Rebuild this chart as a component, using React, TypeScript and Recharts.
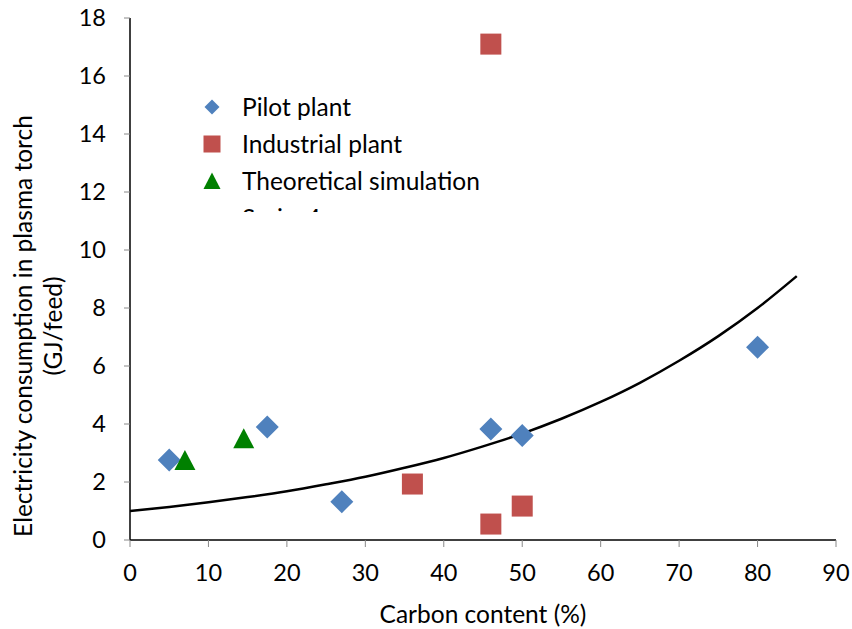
import {
  Legend,
  Scatter,
  ScatterChart,
  XAxis,
  YAxis,
} from "recharts";

// carbon content (%) vs. electricity consumption (GJ/feed)
const pilotPlant = [
  { x: 5, y: 2.76 },
  { x: 17.5, y: 3.9 },
  { x: 27, y: 1.32 },
  { x: 46, y: 3.83 },
  { x: 50, y: 3.6 },
  { x: 80, y: 6.65 },
];

const industrialPlant = [
  { x: 46, y: 17.1 },
  { x: 36, y: 1.93 },
  { x: 46, y: 0.55 },
  { x: 50, y: 1.17 },
];

const theoreticalSimulation = [
  { x: 7, y: 2.72 },
  { x: 14.5, y: 3.47 },
];

// trend line, read every 5 %
const trendX = [0, 5, 10, 15, 20, 25, 30, 35, 40, 45, 50, 55, 60, 65, 70, 75, 80, 85];
const trendY = [1.0, 1.14, 1.3, 1.48, 1.68, 1.92, 2.18, 2.49, 2.83, 3.23, 3.67, 4.18, 4.76, 5.42, 6.18, 7.03, 8.0, 9.1];
const trend = trendX.map((x, i) => ({ x, y: trendY[i] }));

const xTicks = [0, 10, 20, 30, 40, 50, 60, 70, 80, 90];
const yTicks = [0, 2, 4, 6, 8, 10, 12, 14, 16, 18];

const legendItems = [
  { name: "Pilot plant", marker: "diamond", color: "#4F81BD" },
  { name: "Industrial plant", marker: "square", color: "#C0504D" },
  { name: "Theoretical simulation", marker: "triangle", color: "#008000" },
  { name: "Series4", marker: "none", color: "#000" },
];

const FONT = "Lato, 'Open Sans', sans-serif";

const Diamond = ({ cx, cy }: any) => {
  const r = 11.5;
  return (
    <path
      d={`M${cx},${cy - r}L${cx + r},${cy}L${cx},${cy + r}L${cx - r},${cy}Z`}
      fill="#4F81BD"
    />
  );
};

const Square = ({ cx, cy }: any) => {
  const s = 10.5;
  return <rect x={cx - s} y={cy - s} width={s * 2} height={s * 2} fill="#C0504D" />;
};

const Triangle = ({ cx, cy }: any) => {
  const w = 10.5;
  return (
    <path
      d={`M${cx},${cy - 11}L${cx + w},${cy + 9}L${cx - w},${cy + 9}Z`}
      fill="#008000"
    />
  );
};

const LegendMarker = ({ kind, color }: { kind: string; color: string }) => {
  if (kind === "none") return <svg width={20} height={20} />;
  let el;
  if (kind === "diamond") el = <path d="M10,2.5L17.5,10L10,17.5L2.5,10Z" fill={color} />;
  else if (kind === "square") el = <rect x={1.5} y={1.5} width={17} height={17} fill={color} />;
  else el = <path d="M10,1.5L18.5,18L1.5,18Z" fill={color} />;
  return (
    <svg width={20} height={20} style={{ display: "block" }}>
      {el}
    </svg>
  );
};

const renderLegend = () => (
  <div style={{ height: 124, overflow: "hidden", fontFamily: FONT, fontSize: 24.5 }}>
    {legendItems.map((it) => (
      <div
        key={it.name}
        style={{ display: "flex", alignItems: "center", height: 37, color: "#000" }}
      >
        <div style={{ width: 20, marginRight: 20 }}>
          <LegendMarker kind={it.marker} color={it.color} />
        </div>
        <span>{it.name}</span>
      </div>
    ))}
  </div>
);

const YLabel = () => (
  <text
    transform="translate(0,326) rotate(-90)"
    textAnchor="middle"
    fontFamily={FONT}
    fontSize={24.5}
    fill="#000"
  >
    <tspan x={0} y={32}>Electricity consumption in plasma torch</tspan>
    <tspan x={0} y={62}>(GJ/feed)</tspan>
  </text>
);

export default function App() {
  return (
    <div style={{ position: "absolute", left: 0, top: 0, background: "#fff" }}>
      <ScatterChart
        width={852}
        height={629}
        margin={{ top: 18, right: 16, left: 0, bottom: 0 }}
      >
        <XAxis
          type="number"
          dataKey="x"
          domain={[0, 90]}
          ticks={xTicks}
          interval={0}
          height={89}
          allowDataOverflow
          axisLine={{ stroke: "#000", strokeWidth: 1.5 }}
          tickLine={{ stroke: "#888" }}
          tickSize={7}
          tickMargin={17}
          tick={{ fill: "#000", fontSize: 23.5, fontFamily: FONT }}
          label={{
            value: "Carbon content (%)",
            position: "insideBottom",
            offset: 6,
            fill: "#000",
            fontSize: 24.5,
            fontFamily: FONT,
          }}
        />
        <YAxis
          type="number"
          dataKey="y"
          domain={[0, 18]}
          ticks={yTicks}
          interval={0}
          width={130}
          allowDataOverflow
          axisLine={{ stroke: "#000", strokeWidth: 1.5 }}
          tickLine={{ stroke: "#888" }}
          tickSize={6}
          tickMargin={18}
          tick={{ fill: "#000", fontSize: 23.5, fontFamily: FONT }}
          label={<YLabel />}
        />
        <Legend
          content={renderLegend}
          layout="vertical"
          align="center"
          verticalAlign="middle"
          wrapperStyle={{ position: "absolute", left: 202, top: 88, width: 340 }}
        />
        <Scatter
          name="Series4"
          data={trend}
          line={{ stroke: "#000", strokeWidth: 2.5 }}
          lineJointType="monotoneX"
          shape={() => <g />}
          isAnimationActive={false}
          legendType="none"
        />
        <Scatter
          name="Pilot plant"
          data={pilotPlant}
          shape={Diamond}
          isAnimationActive={false}
        />
        <Scatter
          name="Industrial plant"
          data={industrialPlant}
          shape={Square}
          isAnimationActive={false}
        />
        <Scatter
          name="Theoretical simulation"
          data={theoreticalSimulation}
          shape={Triangle}
          isAnimationActive={false}
        />
      </ScatterChart>
    </div>
  );
}
